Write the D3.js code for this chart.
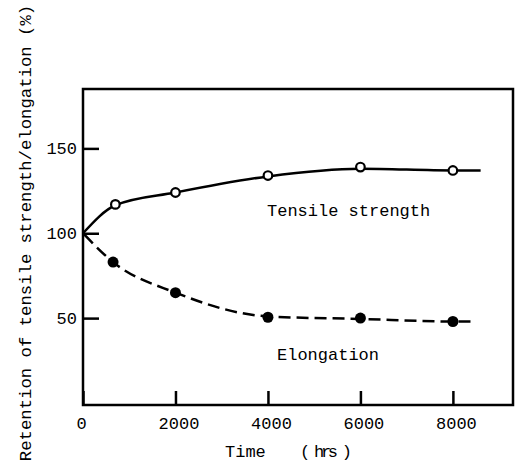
<!DOCTYPE html>
<html>
<head>
<meta charset="utf-8">
<script src="https://cdn.jsdelivr.net/npm/d3@7"></script>
<style>
  body { margin: 0; background: #fff; }
  text { font-family: 'Courier New', 'Liberation Mono', monospace; fill: #000; }
</style>
</head>
<body>
<div id="container"></div>
<script>
const WIDTH = 520;
const HEIGHT = 464;

// values
const xTicks = [0, 2000, 4000, 6000, 8000];
const yTicks = [50, 100, 150];

const tensileTime = [700, 2000, 4000, 6000, 8000];
const tensileValue = [117, 124, 134, 139, 137];
const tensileLineTime = [0, 700, 2000, 4000, 6000, 8000, 8600];
const tensileLineValue = [100, 116.5, 124, 133.5, 138, 137, 137];

const elongTime = [650, 2000, 4000, 6000, 8000];
const elongValue = [83, 65, 50.5, 50, 48];
const elongLineTime = [0, 650, 2000, 4000, 6000, 8000, 8450];
const elongLineValue = [100, 83, 65, 51, 49.5, 48, 48];

const margin = { top: 89, right: 7, bottom: 59, left: 83 };

const x = d3.scaleLinear().domain([0, 9300]).range([margin.left, WIDTH - margin.right]);
const y = d3.scaleLinear().domain([-1.2, 185]).range([HEIGHT - margin.bottom, margin.top]);

const svg = d3
  .select('#container')
  .append('svg')
  .attr('width', WIDTH)
  .attr('height', HEIGHT);

// axes with inward ticks
const xAxis = svg
  .append('g')
  .attr('transform', `translate(0, ${y.range()[0]})`)
  .call(
    d3
      .axisBottom(x)
      .tickValues(xTicks)
      .tickFormat(d3.format('d'))
      .tickSizeInner(-14)
      .tickSizeOuter(0)
      .tickPadding(12)
  );

const yAxis = svg
  .append('g')
  .attr('transform', `translate(${x.range()[0]}, 0)`)
  .call(d3.axisLeft(y).tickValues(yTicks).tickSizeInner(-16).tickSizeOuter(0).tickPadding(6));

[xAxis, yAxis].forEach((g) => {
  g.select('.domain').remove();
  g.selectAll('.tick line').attr('stroke', '#000').attr('stroke-width', 2.5);
  g.selectAll('.tick text').style('font-size', '17px').attr('fill', '#000');
});

xAxis.selectAll('.tick text').attr('dx', (d) => (d === 0 ? -2 : 3));

svg
  .append('rect')
  .attr('x', x.range()[0])
  .attr('y', y.range()[1])
  .attr('width', x.range()[1] - x.range()[0])
  .attr('height', y.range()[0] - y.range()[1])
  .attr('fill', 'none')
  .attr('stroke', '#000')
  .attr('stroke-width', 2.5);

const line = d3
  .line()
  .x((d) => x(d[0]))
  .y((d) => y(d[1]))
  .curve(d3.curveMonotoneX);

svg
  .append('path')
  .datum(d3.zip(tensileLineTime, tensileLineValue))
  .attr('d', line)
  .attr('fill', 'none')
  .attr('stroke', '#000')
  .attr('stroke-width', 2.5);

svg
  .append('path')
  .datum(d3.zip(elongLineTime, elongLineValue))
  .attr('d', line)
  .attr('fill', 'none')
  .attr('stroke', '#000')
  .attr('stroke-width', 2.5)
  .attr('stroke-dasharray', '12,6')
  .attr('stroke-dashoffset', 16);

svg
  .selectAll('.tensile')
  .data(d3.zip(tensileTime, tensileValue))
  .enter()
  .append('circle')
  .attr('class', 'tensile')
  .attr('cx', (d) => x(d[0]))
  .attr('cy', (d) => y(d[1]))
  .attr('r', 4.3)
  .attr('fill', '#fff')
  .attr('stroke', '#000')
  .attr('stroke-width', 2.2);

svg
  .selectAll('.elong')
  .data(d3.zip(elongTime, elongValue))
  .enter()
  .append('circle')
  .attr('class', 'elong')
  .attr('cx', (d) => x(d[0]))
  .attr('cy', (d) => y(d[1]))
  .attr('r', 5.5)
  .attr('fill', '#000');

// labels
svg
  .append('text')
  .attr('x', 267)
  .attr('y', 216)
  .style('font-size', '17px')
  .text('Tensile strength');

svg
  .append('text')
  .attr('x', 277)
  .attr('y', 360)
  .style('font-size', '17px')
  .text('Elongation');

svg
  .append('text')
  .attr('x', 225)
  .attr('y', 457)
  .style('font-size', '17px')
  .text('Time');

svg
  .append('text')
  .attr('x', 300)
  .attr('y', 457)
  .attr('textLength', 52)
  .attr('lengthAdjust', 'spacing')
  .style('font-size', '17px')
  .style('white-space', 'pre')
  .text('( hrs )');

svg
  .append('text')
  .attr('transform', 'translate(31, 233) rotate(-90)')
  .attr('text-anchor', 'middle')
  .style('font-size', '17.3px')
  .text('Retention of tensile strength/elongation (%)');
</script>
</body>
</html>
